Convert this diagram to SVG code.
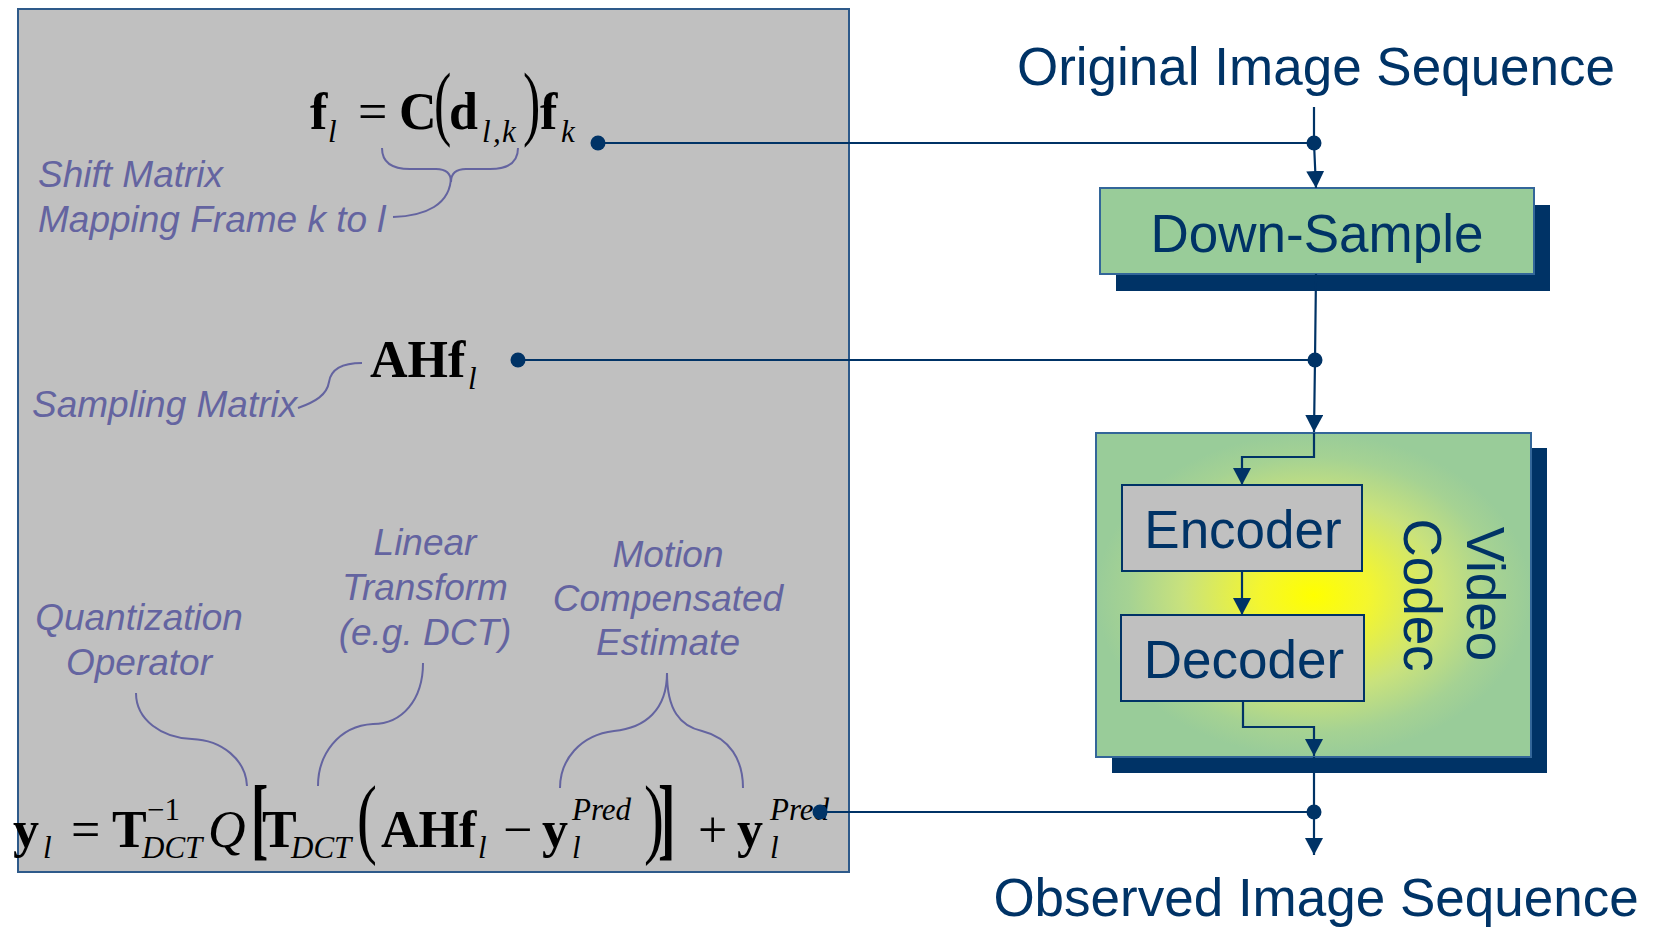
<svg xmlns="http://www.w3.org/2000/svg" width="1657" height="928" viewBox="0 0 1657 928">
  <style>
    .math { font-family: "Liberation Serif", "Times New Roman", serif; fill: #000; }
    .mb { font-size: 52px; font-weight: bold; }
    .mr { font-size: 52px; }
    .mi { font-size: 31px; font-style: italic; }
    .mq { font-size: 52px; font-style: italic; }
    .sup { font-size: 31px; }
    .note { font-family: "Liberation Sans", Arial, sans-serif; font-size: 37px; font-style: italic; fill: #6464A0; }
    .brace { fill: none; stroke: #6464A0; stroke-width: 2; }
    .label { font-family: "Liberation Sans", Arial, sans-serif; font-size: 53px; fill: #003366; }
    .wire { fill: none; stroke: #003366; stroke-width: 2.2; }
    .dot { fill: #003366; }
    .shadow { fill: #003366; }
  </style>
  <defs>
    <marker id="arrow" markerUnits="userSpaceOnUse" markerWidth="18" markerHeight="18" viewBox="0 0 18 18" refX="17" refY="9" orient="auto">
      <path d="M0,0 L17,9 L0,18 z" fill="#003366"/>
    </marker>
    <radialGradient id="codecFill" cx="0.5" cy="0.5" r="0.5">
      <stop offset="0" stop-color="#FFFF00"/>
      <stop offset="0.25" stop-color="#F4F62E"/>
      <stop offset="0.6" stop-color="#C9E27C"/>
      <stop offset="0.85" stop-color="#A5D293"/>
      <stop offset="1" stop-color="#99CC99"/>
    </radialGradient>
  </defs>

  <!-- model panel -->
  <g id="model-panel">
    <rect x="18" y="9" width="831" height="863" fill="#C0C0C0" stroke="#2E5A8A" stroke-width="2"/>
  </g>

  <!-- f_l = C(d_{l,k}) f_k -->
  <g id="eq-shift" class="math">
    <text class="mb" x="310" y="129">f</text>
    <text class="mi" x="328" y="142">l</text>
    <text class="mr" x="358" y="129">=</text>
    <text class="mb" x="399" y="129">C</text>
    <text class="mr" transform="translate(434,130) scale(1,1.6)">(</text>
    <text class="mb" x="449" y="129">d</text>
    <text class="mi" x="482" y="142">l</text>
    <text class="mi" x="493" y="142">,</text>
    <text class="mi" x="502" y="142">k</text>
    <text class="mr" transform="translate(523,130) scale(1,1.6)">)</text>
    <text class="mb" x="540" y="129">f</text>
    <text class="mi" x="561" y="142">k</text>
  </g>
  <g id="note-shift">
    <path class="brace" d="M382,148 C382,162 392,169 410,169 L436,169 C446,169 451,173 451,182"/>
    <path class="brace" d="M518,148 C518,162 508,169 490,169 L466,169 C456,169 451,173 451,182"/>
    <path class="brace" d="M451,176 C451,205 425,216 393,217"/>
    <text class="note" x="38" y="187">Shift Matrix</text>
    <text class="note" x="38" y="232">Mapping Frame k to l</text>
  </g>

  <!-- A H f_l -->
  <g id="eq-sample" class="math">
    <text class="mb" x="370" y="377">AHf</text>
    <text class="mi" x="468" y="389">l</text>
  </g>
  <g id="note-sample">
    <path class="brace" d="M298,408 C315,402 327,395 329,382 C331,368 343,363 362,363"/>
    <text class="note" x="32" y="417">Sampling Matrix</text>
  </g>

  <!-- y_l = T^-1_DCT Q[T_DCT(AHf_l - y_l^Pred)] + y_l^Pred -->
  <g id="eq-observe" class="math">
    <text class="mb" x="13" y="847">y</text>
    <text class="mi" x="43" y="858">l</text>
    <text class="mr" x="71" y="847">=</text>
    <text class="mb" x="112" y="847">T</text>
    <text class="sup" x="147" y="820">−1</text>
    <text class="mi" x="142" y="858">DCT</text>
    <text class="mq" x="208" y="847">Q</text>
    <text class="mb" transform="translate(251,848) scale(1,1.75)">[</text>
    <text class="mb" x="262" y="847">T</text>
    <text class="mi" x="291" y="858">DCT</text>
    <text class="mr" transform="translate(357,847) scale(1.15,1.7)">(</text>
    <text class="mb" x="381" y="847">AHf</text>
    <text class="mi" x="478" y="858">l</text>
    <text class="mr" x="503" y="847">−</text>
    <text class="mb" x="542" y="847">y</text>
    <text class="mi" x="572" y="820">Pred</text>
    <text class="mi" x="572" y="858">l</text>
    <text class="mr" transform="translate(644,847) scale(1.15,1.7)">)</text>
    <text class="mb" transform="translate(658,848) scale(1,1.75)">]</text>
    <text class="mr" x="698" y="847">+</text>
    <text class="mb" x="737" y="847">y</text>
    <text class="mi" x="770" y="820">Pred</text>
    <text class="mi" x="770" y="858">l</text>
  </g>
  <g id="note-quant">
    <path class="brace" d="M136,693 C136,720 162,738 192,739 C222,740 246,760 247,786"/>
    <text class="note" x="139" y="630" text-anchor="middle">Quantization</text>
    <text class="note" x="139" y="675" text-anchor="middle">Operator</text>
  </g>
  <g id="note-transform">
    <path class="brace" d="M423,663 C423,700 402,724 373,724 C338,726 318,755 318,786"/>
    <text class="note" x="425" y="555" text-anchor="middle">Linear</text>
    <text class="note" x="425" y="600" text-anchor="middle">Transform</text>
    <text class="note" x="425" y="645" text-anchor="middle">(e.g. DCT)</text>
  </g>
  <g id="note-motion">
    <path class="brace" d="M667,673 C667,710 645,728 614,731 C580,735 560,760 560,788"/>
    <path class="brace" d="M667,673 C667,710 680,726 702,731 C730,738 743,760 743,788"/>
    <text class="note" x="668" y="567" text-anchor="middle">Motion</text>
    <text class="note" x="668" y="611" text-anchor="middle">Compensated</text>
    <text class="note" x="668" y="655" text-anchor="middle">Estimate</text>
  </g>

  <!-- pipeline nodes -->
  <g id="original-sequence">
    <text class="label" x="1316" y="85" text-anchor="middle">Original Image Sequence</text>
  </g>

  <g id="down-sample">
    <rect class="shadow" x="1116" y="205" width="434" height="86"/>
    <rect x="1100" y="188" width="434" height="86" fill="#99CC99" stroke="#336699" stroke-width="2"/>
    <text class="label" x="1317" y="252" text-anchor="middle">Down-Sample</text>
  </g>

  <g id="video-codec">
    <rect class="shadow" x="1112" y="448" width="435" height="325"/>
    <rect x="1096" y="433" width="435" height="324" fill="url(#codecFill)" stroke="#336699" stroke-width="2"/>
    <text class="label" transform="translate(1467,594) rotate(90)" text-anchor="middle">Video</text>
    <text class="label" transform="translate(1404,595) rotate(90)" text-anchor="middle">Codec</text>
  </g>

  <g id="encoder">
    <rect x="1122" y="485" width="240" height="86" fill="#C0C0C0" stroke="#003366" stroke-width="2"/>
    <text class="label" x="1243" y="548" text-anchor="middle">Encoder</text>
  </g>

  <g id="decoder">
    <rect x="1121" y="615" width="243" height="86" fill="#C0C0C0" stroke="#003366" stroke-width="2"/>
    <text class="label" x="1244" y="678" text-anchor="middle">Decoder</text>
  </g>

  <g id="observed-sequence">
    <text class="label" x="1316" y="916" text-anchor="middle">Observed Image Sequence</text>
  </g>

  <!-- connectors -->
  <g id="connectors">
    <path class="wire" d="M1314,107 L1314,143 L1316,188" marker-end="url(#arrow)"/>
    <path class="wire" d="M598,143 L1314,143"/>
    <path class="wire" d="M1316,274 L1315,360 L1314,432" marker-end="url(#arrow)"/>
    <path class="wire" d="M518,360 L1315,360"/>
    <path class="wire" d="M1314,433 L1314,457 L1242,457 L1242,485" marker-end="url(#arrow)"/>
    <path class="wire" d="M1242,571 L1242,615" marker-end="url(#arrow)"/>
    <path class="wire" d="M1243,701 L1243,727 L1314,727 L1314,756" marker-end="url(#arrow)"/>
    <path class="wire" d="M1314,757 L1314,855" marker-end="url(#arrow)"/>
    <path class="wire" d="M820,812 L1314,812"/>
    <circle class="dot" cx="598" cy="143" r="7.5"/>
    <circle class="dot" cx="1314" cy="143" r="7.5"/>
    <circle class="dot" cx="518" cy="360" r="7.5"/>
    <circle class="dot" cx="1315" cy="360" r="7.5"/>
    <circle class="dot" cx="820" cy="812" r="7.5"/>
    <circle class="dot" cx="1314" cy="812" r="7.5"/>
  </g>
</svg>
